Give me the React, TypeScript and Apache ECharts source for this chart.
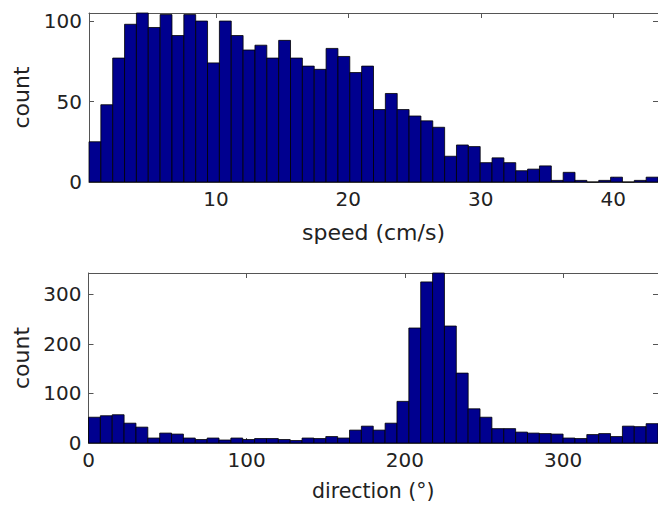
import React, { useEffect, useRef } from "react";
import * as echarts from "echarts";

// speed histogram (cm/s), 48 bins
const SPEED_BIN_START = 0.42;
const SPEED_BIN_WIDTH = 0.895;
const SPEED_COUNTS = [
  25, 48, 77, 98, 105, 96, 104, 91, 104, 100, 74, 100, 91, 82, 85, 77,
  88, 77, 72, 70, 83, 78, 68, 72, 45, 55, 45, 41, 38, 34, 16, 23,
  22, 12, 15, 12, 7, 8, 10, 1, 6, 1, 0, 1, 3, 0, 1, 3,
];
const SPEED_X_TICKS = [10, 20, 30, 40];
const SPEED_Y_MAX = 105;
const SPEED_Y_STEP = 50;

// direction histogram (degrees), 48 bins of 7.5°
const DIR_BIN_START = 0;
const DIR_BIN_WIDTH = 7.5;
const DIR_COUNTS = [
  52, 55, 57, 40, 32, 10, 20, 18, 10, 7, 10, 6, 10, 7, 9, 9,
  7, 5, 10, 9, 13, 10, 26, 34, 26, 40, 84, 232, 325, 343, 236, 141,
  69, 52, 29, 29, 22, 20, 19, 18, 10, 9, 17, 19, 13, 34, 33, 39,
];
const DIR_X_TICKS = [0, 100, 200, 300];
const DIR_Y_MAX = 343;
const DIR_Y_STEP = 100;

const FONT = "DejaVu Sans";
const BAR_FILL = "#00008f";
const FRAME = "#555";

function bins(start: number, width: number, counts: number[]) {
  return counts.map((c, i) => [start + i * width, start + (i + 1) * width, c]);
}

const renderBar = (_params: any, api: any) => {
  const p0 = api.coord([api.value(0), 0]);
  const p1 = api.coord([api.value(1), api.value(2)]);
  return {
    type: "rect",
    shape: { x: p0[0], y: p1[1], width: p1[0] - p0[0], height: p0[1] - p1[1] },
    style: { fill: BAR_FILL, stroke: "#000", lineWidth: 0.8 },
  };
};

function xAxes(gridIndex: number, min: number, max: number, ticks: number[], name: string, nameGap: number, nameSize: number) {
  return [
    {
      type: "value",
      gridIndex,
      position: "bottom",
      min,
      max,
      name,
      nameLocation: "middle",
      nameGap,
      nameTextStyle: { fontFamily: FONT, fontSize: nameSize, color: "#222" },
      axisLine: { show: true, onZero: false, lineStyle: { color: FRAME, width: 1 } },
      axisTick: { show: true, inside: true, length: 5, customValues: ticks, lineStyle: { color: FRAME } },
      axisLabel: { show: true, customValues: ticks, fontFamily: FONT, fontSize: 20, color: "#222", margin: 7 },
      splitLine: { show: false },
    },
    {
      type: "value",
      gridIndex,
      position: "top",
      min,
      max,
      axisLine: { show: true, onZero: false, lineStyle: { color: FRAME, width: 1 } },
      axisTick: { show: true, inside: true, length: 5, customValues: ticks, lineStyle: { color: FRAME } },
      axisLabel: { show: false },
      splitLine: { show: false },
    },
  ];
}

function yAxes(gridIndex: number, max: number, step: number, nameGap: number) {
  return [
    {
      type: "value",
      gridIndex,
      position: "left",
      min: 0,
      max,
      interval: step,
      name: "count",
      nameLocation: "middle",
      nameGap,
      nameTextStyle: { fontFamily: FONT, fontSize: 22, color: "#222" },
      axisLine: { show: true, onZero: false, lineStyle: { color: FRAME, width: 1 } },
      axisTick: { show: true, inside: true, length: 5, lineStyle: { color: FRAME } },
      axisLabel: { show: true, fontFamily: FONT, fontSize: 20, color: "#222", margin: 7, showMaxLabel: false },
      splitLine: { show: false },
    },
    {
      type: "value",
      gridIndex,
      position: "right",
      min: 0,
      max,
      interval: step,
      axisLine: { show: true, onZero: false, lineStyle: { color: FRAME, width: 1 } },
      axisTick: { show: true, inside: true, length: 5, lineStyle: { color: FRAME } },
      axisLabel: { show: false },
      splitLine: { show: false },
    },
  ];
}

export default function App() {
  const ref = useRef<HTMLDivElement>(null);
  useEffect(() => {
    if (!ref.current) return;
    const chart = echarts.init(ref.current, undefined, { renderer: "svg" });
    const speedMax = SPEED_BIN_START + SPEED_COUNTS.length * SPEED_BIN_WIDTH;
    const dirMax = DIR_BIN_START + DIR_COUNTS.length * DIR_BIN_WIDTH;
    chart.setOption({
      animation: false,
      backgroundColor: "#fff",
      grid: [
        { left: 89, top: 13, width: 569, height: 169 },
        { left: 88.5, top: 273, width: 570.5, height: 170 },
      ],
      xAxis: [
        ...xAxes(0, SPEED_BIN_START, speedMax, SPEED_X_TICKS, "speed (cm/s)", 39, 22),
        ...xAxes(1, DIR_BIN_START, dirMax, DIR_X_TICKS, "direction (°)", 37, 20.5),
      ],
      yAxis: [...yAxes(0, SPEED_Y_MAX, SPEED_Y_STEP, 49), ...yAxes(1, DIR_Y_MAX, DIR_Y_STEP, 49)],
      series: [
        {
          type: "custom",
          xAxisIndex: 0,
          yAxisIndex: 0,
          renderItem: renderBar,
          encode: { x: [0, 1], y: 2 },
          data: bins(SPEED_BIN_START, SPEED_BIN_WIDTH, SPEED_COUNTS),
        },
        {
          type: "custom",
          xAxisIndex: 2,
          yAxisIndex: 2,
          renderItem: renderBar,
          encode: { x: [0, 1], y: 2 },
          data: bins(DIR_BIN_START, DIR_BIN_WIDTH, DIR_COUNTS),
        },
      ],
    });
    return () => chart.dispose();
  }, []);
  return (
    <div
      ref={ref}
      style={{ position: "fixed", left: 0, top: 0, width: 658, height: 506, background: "#fff" }}
    />
  );
}
